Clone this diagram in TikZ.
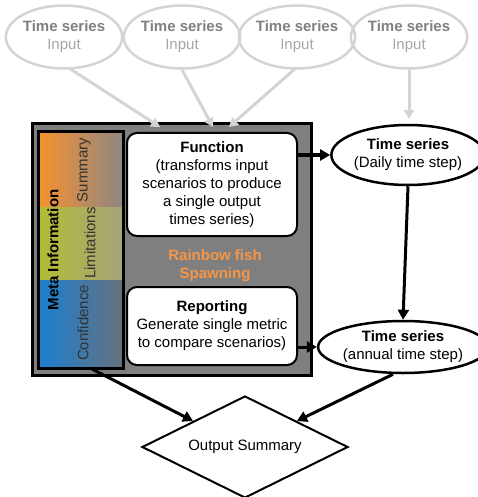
\documentclass[tikz,border=0pt]{standalone}
\usepackage{fontspec}
\setmainfont{Liberation Sans}
\usetikzlibrary{arrows.meta,shapes.geometric,calc}
\definecolor{ingray}{HTML}{D4D4D4}
\definecolor{intitle}{HTML}{808080}
\definecolor{insub}{HTML}{A6A6A6}
\definecolor{boxgray}{HTML}{7F7F7F}
\definecolor{fishorange}{HTML}{F79646}
\definecolor{sumL}{HTML}{F7922E}
\definecolor{sumR}{HTML}{8E8684}
\definecolor{limL}{HTML}{B3BC34}
\definecolor{limR}{HTML}{A4A47C}
\definecolor{conL}{HTML}{1B7FD2}
\definecolor{conR}{HTML}{65717E}
\definecolor{metatext}{HTML}{333333}
\begin{document}
\begin{tikzpicture}[x=1pt,y=-1pt,
  every node/.style={font=\fontsize{15}{18}\selectfont},
  inell/.style={ellipse, draw=ingray, line width=2.5pt, minimum width=108pt, minimum height=63pt, inner sep=0pt, align=center},
  outell/.style={ellipse, draw=black, line width=2.5pt, fill=white, minimum width=137pt, minimum height=60pt, inner sep=0pt, align=center},
  wbox/.style={draw=black, line width=2pt, fill=white, rounded corners=10pt, minimum width=170pt, inner sep=0pt, align=center},
  inarr/.style={draw=ingray, line width=3pt, -{Triangle[length=9pt,width=10pt]}},
  barr/.style={draw=black, line width=3pt, -{Triangle[length=10pt,width=11pt]}},
  rottext/.style={rotate=90, text=metatext, inner sep=0pt}]
\useasboundingbox (0,0) rectangle (478,497);
% main gray box
\node[draw=black, line width=3pt, fill=boxgray, minimum width=279pt, minimum height=251pt, inner sep=0pt] (Main) at (171.5,249.5) {};
% meta information bands
\shade[left color=sumL, right color=sumR] (38,132) rectangle (123,207);
\shade[left color=limL, right color=limR] (38,207) rectangle (123,280);
\shade[left color=conL, right color=conR] (38,280) rectangle (123,368);
\node[draw=black, line width=3pt, minimum width=85pt, minimum height=236pt, inner sep=0pt] (Meta) at (80.5,250) {};
\node[rotate=90, inner sep=0pt, font=\fontsize{15}{18}\selectfont\bfseries] (MetaT) at (53,250) {Meta Information};
\node[rottext] (SumT) at (84,170) {Summary};
\node[rottext] (LimT) at (90,243) {Limitations};
\node[rottext] (ConT) at (83,323) {Confidence};
% function and reporting boxes
\node[wbox, minimum height=103pt] (Func) at (212,184.5) {\textbf{Function}\\(transforms input\\scenarios to produce\\a single output\\times series)};
\node[wbox, minimum height=78pt] (Rep) at (212,326) {\textbf{Reporting}\\Generate single metric\\to compare scenarios)};
\node[align=center, text=fishorange, font=\fontsize{15}{18}\selectfont\bfseries] (Fish) at (215,266) {Rainbow fish\\Spawning};
% input ellipses
\node[inell] (In1) at (64,37) {\textcolor{intitle}{\textbf{Time series}}\\\textcolor{insub}{Input}};
\node[inell] (In2) at (182,37) {\textcolor{intitle}{\textbf{Time series}}\\\textcolor{insub}{Input}};
\node[inell] (In3) at (297,37) {\textcolor{intitle}{\textbf{Time series}}\\\textcolor{insub}{Input}};
\node[inell] (In4) at (409,37) {\textcolor{intitle}{\textbf{Time series}}\\\textcolor{insub}{Input}};
% output ellipses
\node[outell] (Daily) at (408,155) {\textbf{Time series}\\(Daily time step)};
\node[outell, minimum width=143pt, minimum height=52pt] (Annual) at (403,347) {\textbf{Time series}\\(annual time step)};
% diamond
\node[diamond, draw=black, line width=2pt, fill=white, shape aspect=2, minimum width=206pt, minimum height=102pt, inner sep=0pt] (Out) at (245,447) {Output Summary};
% input arrows
\coordinate (T1) at (160,127);
\coordinate (T2) at (213,127);
\coordinate (T3) at (229,127);
\coordinate (T4) at (409,119);
\draw[inarr] ($(In1.south)+(6,-1)$) -- (T1);
\draw[inarr] (In2.south) -- (T2);
\draw[inarr] ($(In3.south)+(-2,-1)$) -- (T3);
\draw[inarr] (In4.south) -- (T4);
% black arrows
\draw[barr] (Daily.west -| Func.east) -- (Daily.west);
\draw[barr] (Annual.west -| Rep.east) -- (Annual.west);
\draw[barr] (Daily.south) -- (Annual.north);
\coordinate (MB) at (90,368);
\draw[barr] (MB) -- (Out.north west);
\draw[barr] ($(Annual.south)+(-10,0)$) -- (Out.north east);
\end{tikzpicture}
\end{document}
